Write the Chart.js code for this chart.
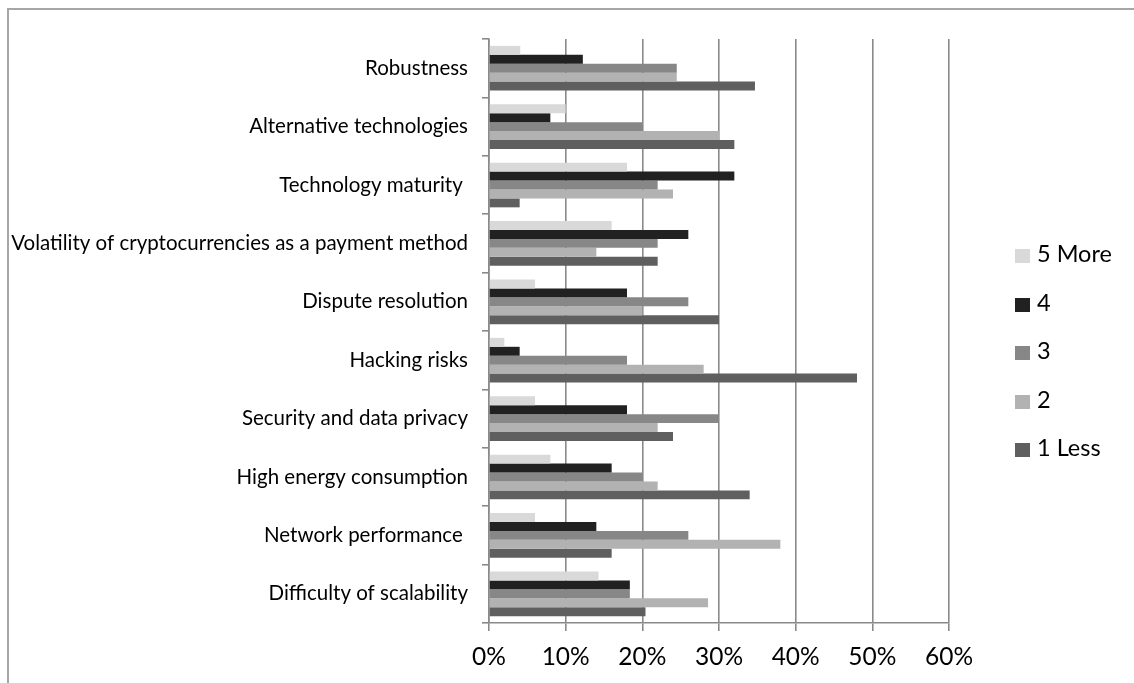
<!DOCTYPE html>
<html>
<head>
<meta charset="utf-8">
<script src="https://cdn.jsdelivr.net/npm/chart.js@4.4.1/dist/chart.umd.min.js"></script>
<style>
  html, body { margin: 0; padding: 0; background: #fff; }
  #wrap { position: relative; width: 1134px; height: 683px; overflow: hidden; font-family: Lato, "Open Sans", sans-serif; }
  #frame { position: absolute; left: 7px; top: 8px; width: 1200px; height: 800px; border-left: 2px solid #a6a6a6; border-top: 2px solid #a6a6a6; }
  #chart { position: absolute; left: 0; top: 0; }
  #legend { position: absolute; left: 1015px; top: 0; }
  .item { position: absolute; left: 0; white-space: nowrap; font-size: 23.5px; line-height: 24px; color: #000; }
  .item .sw { display: inline-block; width: 15px; height: 14px; margin-right: 7px; vertical-align: -1px; }
</style>
</head>
<body>
<div id="wrap">
  <div id="frame"></div>
  <canvas id="chart" width="1134" height="683"></canvas>
  <div id="legend"></div>
</div>
<script>
const categories = [
  'Robustness',
  'Alternative technologies',
  'Technology maturity ',
  'Volatility of cryptocurrencies as a payment method',
  'Dispute resolution',
  'Hacking risks',
  'Security and data privacy',
  'High energy consumption',
  'Network performance ',
  'Difficulty of scalability'
];
const seriesNames = ['5 More', '4', '3', '2', '1 Less'];
const seriesColors = ['#d9d9d9', '#212121', '#878787', '#b2b2b2', '#5f5f5f'];

const more5 = [4.08, 10, 18, 16, 6, 2, 6, 8, 6, 14.29];
const four  = [12.24, 8, 32, 26, 18, 4, 18, 16, 14, 18.37];
const three = [24.49, 20, 22, 22, 26, 18, 30, 20, 26, 18.37];
const two   = [24.49, 30, 24, 14, 20, 28, 22, 22, 38, 28.57];
const less1 = [34.69, 32, 4, 22, 30, 48, 24, 34, 16, 20.41];

const xTickLabels = ['0%', '10%', '20%', '30%', '40%', '50%', '60%'];

const seriesValues = [more5, four, three, two, less1];

const datasets = seriesNames.map((name, i) => ({
  label: name,
  data: seriesValues[i],
  backgroundColor: seriesColors[i],
  borderWidth: 0,
  categoryPercentage: 0.765,
  barPercentage: 1.0
}));

const gridColor = '#8a8a8a';

new Chart(document.getElementById('chart'), {
  type: 'bar',
  data: { labels: categories, datasets },
  options: {
    indexAxis: 'y',
    responsive: false,
    animation: false,
    layout: { padding: { top: 39, right: 185, bottom: 0, left: 0 } },
    plugins: { legend: { display: false }, tooltip: { enabled: false } },
    scales: {
      x: {
        min: 0, max: 60,
        ticks: {
          stepSize: 10,
          color: '#000',
          padding: 11,
          font: { family: 'Lato', size: 24.5 },
          callback: (v, i) => xTickLabels[i]
        },
        grid: { color: gridColor, lineWidth: 1.6, tickLength: 8, drawTicks: true },
        border: { display: true, color: gridColor, width: 1.6 },
        afterFit: s => { s.height = 60; }
      },
      y: {
        ticks: {
          color: '#000',
          padding: 14,
          font: { family: 'Lato', size: 20.5 }
        },
        grid: { offset: true, drawOnChartArea: false, tickLength: 7, color: gridColor, lineWidth: 1.6 },
        border: { display: true, color: gridColor, width: 1.6 },
        afterFit: s => { s.width = 489; }
      }
    }
  }
});

const legendEl = document.getElementById('legend');
seriesNames.forEach((name, i) => {
  const it = document.createElement('div');
  it.className = 'item';
  it.style.top = (241 + i * 48.5) + 'px';
  const sw = document.createElement('span');
  sw.className = 'sw';
  sw.style.background = seriesColors[i];
  it.appendChild(sw);
  it.appendChild(document.createTextNode(name));
  legendEl.appendChild(it);
});
</script>
</body>
</html>
